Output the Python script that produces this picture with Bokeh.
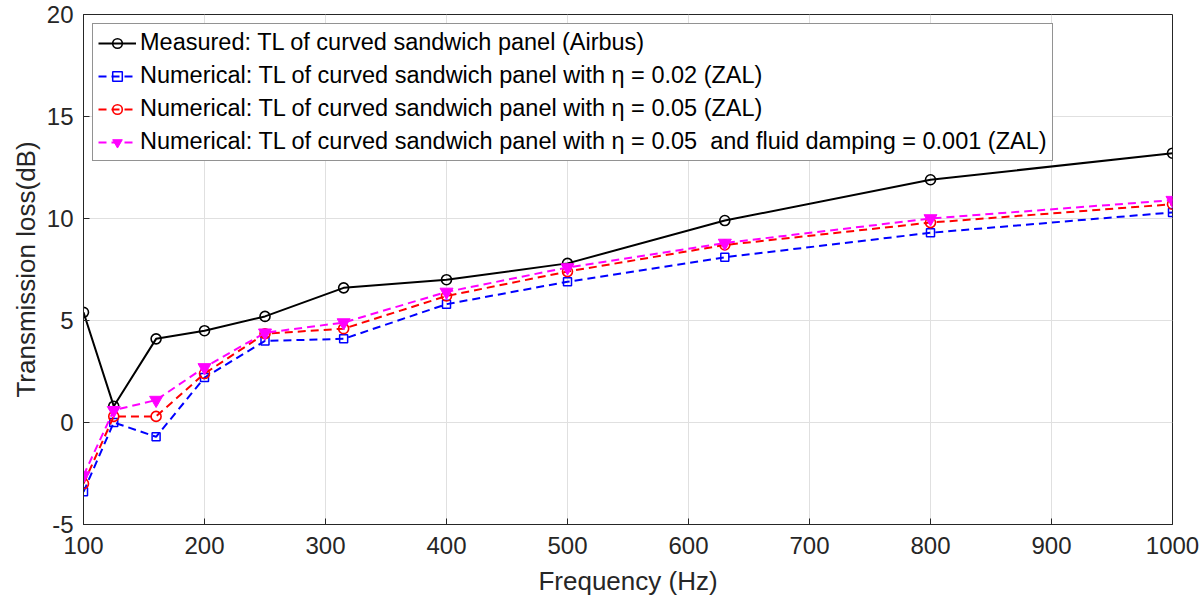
from bokeh.plotting import figure
from bokeh.models import Legend, LegendItem, FixedTicker, ColumnDataSource
from bokeh.embed import file_html
from bokeh.resources import INLINE

# Third-octave centre frequencies (Hz)
freq = [100, 125, 160, 200, 250, 315, 400, 500, 630, 800, 1000]

# Transmission loss (dB)
tl_measured = [5.4, 0.8, 4.1, 4.5, 5.2, 6.6, 7.0, 7.8, 9.9, 11.9, 13.2]
tl_eta002 = [-3.4, 0.0, -0.7, 2.2, 4.0, 4.1, 5.8, 6.9, 8.1, 9.3, 10.3]
tl_eta005 = [-3.0, 0.3, 0.3, 2.4, 4.35, 4.6, 6.2, 7.4, 8.7, 9.8, 10.7]
tl_eta005_fluid = [-2.6, 0.6, 1.1, 2.7, 4.4, 4.9, 6.4, 7.6, 8.8, 10.0, 10.9]

labels = [
    "Measured: TL of curved sandwich panel (Airbus)",
    "Numerical: TL of curved sandwich panel with η = 0.02 (ZAL)",
    "Numerical: TL of curved sandwich panel with η = 0.05 (ZAL)",
    "Numerical: TL of curved sandwich panel with η = 0.05  and fluid damping = 0.001 (ZAL)",
]

x_ticks = [100, 200, 300, 400, 500, 600, 700, 800, 900, 1000]
y_ticks = [-5, 0, 5, 10, 15, 20]

FONT = "Liberation Sans"
AX = "#262626"

p = figure(
    width=1201, height=603,
    x_range=(100, 1000), y_range=(-5, 20),
    output_backend="svg", toolbar_location=None,
    min_border_left=83, min_border_right=29,
    min_border_top=14, min_border_bottom=79,
)
p.background_fill_color = "white"
p.border_fill_color = "white"
p.outline_line_color = AX
p.outline_line_width = 1

for ax in (p.xaxis[0], p.yaxis[0]):
    ax.major_label_text_font = FONT
    ax.major_label_text_font_size = "24px"
    ax.major_label_text_color = AX
    ax.axis_label_text_font = FONT
    ax.axis_label_text_font_size = "26px"
    ax.axis_label_text_font_style = "normal"
    ax.axis_label_text_color = AX
    ax.axis_line_color = AX
    ax.major_tick_line_color = AX
    ax.major_tick_in = 6
    ax.major_tick_out = 0
    ax.minor_tick_line_color = None

p.xaxis.ticker = FixedTicker(ticks=x_ticks)
p.yaxis.ticker = FixedTicker(ticks=y_ticks)
p.yaxis.major_label_overrides = {v: str(v) for v in y_ticks}
p.xaxis.axis_label = "Frequency (Hz)"
p.yaxis.axis_label = "Transmission loss(dB)"
p.xaxis.major_label_standoff = 12
p.yaxis.major_label_standoff = 10
p.xaxis.axis_label_standoff = 9
p.yaxis.axis_label_standoff = 3

p.xgrid.ticker = FixedTicker(ticks=x_ticks)
p.ygrid.ticker = FixedTicker(ticks=y_ticks)
for g in (p.xgrid[0], p.ygrid[0]):
    g.grid_line_color = "#e0e0e0"
    g.grid_line_width = 1

src = ColumnDataSource(dict(
    f=freq, m=tl_measured, a=tl_eta002, b=tl_eta005, c=tl_eta005_fluid,
))

r_m_line = p.line("f", "m", source=src, line_color="black", line_width=2)
r_m_pts = p.scatter("f", "m", source=src, marker="circle", size=10,
                    fill_color=None, line_color="black", line_width=1.6)

r_a_line = p.line("f", "a", source=src, line_color="#0000ff", line_width=2,
                  line_dash="8 5")
r_a_pts = p.scatter("f", "a", source=src, marker="square", size=8,
                    fill_color=None, line_color="#0000ff", line_width=1.5)

r_b_line = p.line("f", "b", source=src, line_color="#ff0000", line_width=2,
                  line_dash="8 5")
r_b_pts = p.scatter("f", "b", source=src, marker="circle", size=10,
                    fill_color=None, line_color="#ff0000", line_width=1.6)

r_c_line = p.line("f", "c", source=src, line_color="#ff00ff", line_width=2,
                  line_dash="8 5")
r_c_pts = p.scatter("f", "c", source=src, marker="inverted_triangle", size=13,
                    fill_color="#ff00ff", line_color="#ff00ff")

legend = Legend(
    items=[
        LegendItem(label=labels[0], renderers=[r_m_line, r_m_pts]),
        LegendItem(label=labels[1], renderers=[r_a_line, r_a_pts]),
        LegendItem(label=labels[2], renderers=[r_b_line, r_b_pts]),
        LegendItem(label=labels[3], renderers=[r_c_line, r_c_pts]),
    ],
    location="top_left",
    margin=9,
    padding=5,
    spacing=6,
    glyph_width=38,
    glyph_height=24,
    label_height=24,
    label_standoff=4,
    label_text_font=FONT,
    label_text_font_size="23.5px",
    label_text_color="black",
    border_line_color=AX,
    border_line_width=1,
    background_fill_color="white",
    background_fill_alpha=1.0,
)
p.add_layout(legend)

open("out.html", "w").write(file_html(p, INLINE))
